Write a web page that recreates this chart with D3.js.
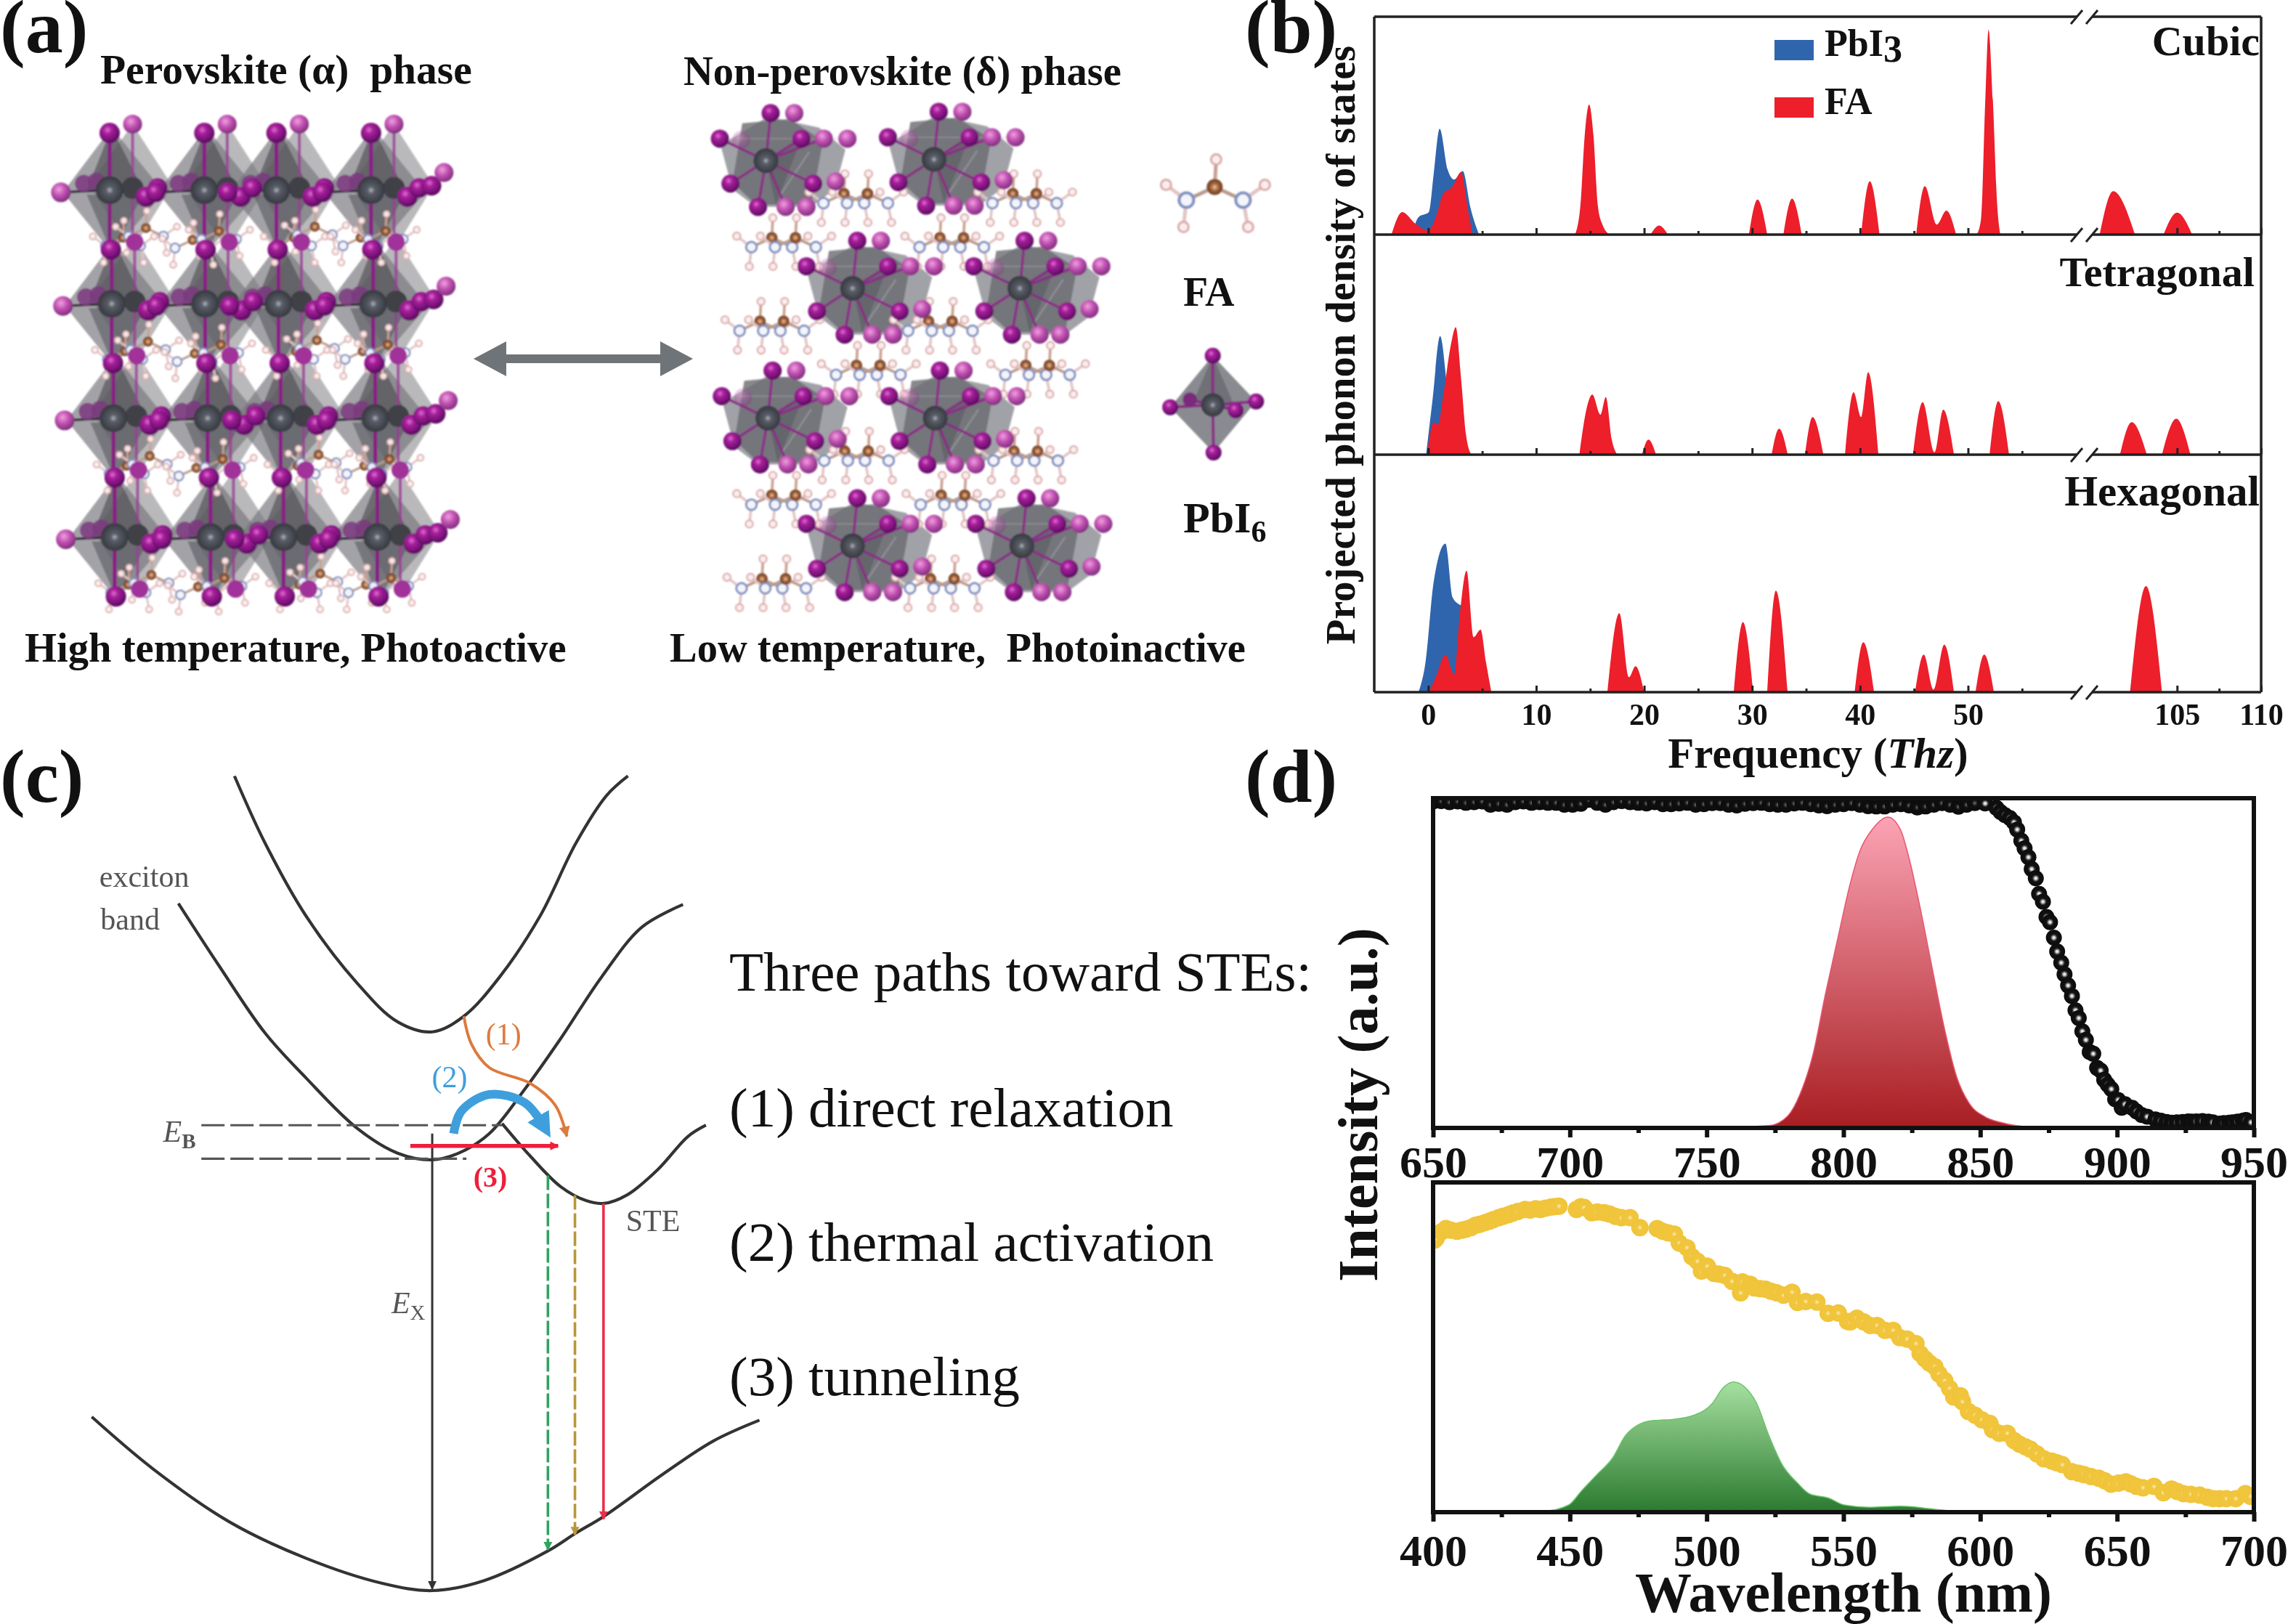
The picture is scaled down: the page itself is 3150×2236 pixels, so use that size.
<!DOCTYPE html>
<html><head><meta charset="utf-8">
<script src="https://cdn.jsdelivr.net/npm/d3@7"></script>
<style>html,body{margin:0;padding:0;background:#fff}svg{display:block;filter:blur(.6px)}text{font-family:"Liberation Serif",serif;fill:#111;white-space:pre}.bold{font-weight:700}</style>
</head><body><svg id="c" width="3150" height="2236" viewBox="0 0 3150 2236"></svg>
<script>
// ---------- panel (b) data: [frequency THz, PDOS a.u.] per peak ----------
const cubicPb=[[[-1.5,0],[-0.9,35],[0.06,45],[0.5,120],[1.06,212],[1.8,130],[2.4,110],[3.2,127],[3.9,55],[4.7,0]]];
const cubicFA=[
 [[-3.4,0],[-2.4,45],[-1.2,22],[0,8],[0.7,35],[1.4,82],[2.2,95],[3.05,125],[3.6,60],[4.1,0]],
 [[13.6,0],[14.1,60],[14.5,200],[14.9,260],[15.3,200],[15.7,60],[16.1,22],[16.8,0]],
 [[20.6,0],[21.4,18],[22.2,0]],[[29.7,0],[30.5,70],[31.4,0]],[[32.9,0],[33.7,72],[34.6,0]],[[40.1,0],[40.9,107],[41.8,0]],
 [[45.2,0],[46,97],[47.1,20],[48,48],[48.9,0]],
 [[50.8,0],[51.2,30],[51.6,270],[51.9,410],[52.3,270],[52.7,60],[53,0]],
 [[100.4,0],[101.2,87],[102.5,0]],[[104.2,0],[105,44],[105.9,0]]];
const tetraPb=[[[-0.2,0],[0.4,110],[1.1,237],[1.8,120],[2.2,30],[2.5,0]]];
const tetraFA=[
 [[-0.1,0],[0.5,65],[0.9,60],[1.4,120],[2.1,220],[2.55,255],[3.05,150],[3.5,40],[4,0]],
 [[14,0],[14.7,95],[15.2,120],[15.95,80],[16.45,115],[17,30],[17.5,0]],
 [[19.8,0],[20.4,30],[21.1,0]],[[31.8,0],[32.5,52],[33.3,0]],[[34.9,0],[35.6,75],[36.6,0]],
 [[38.6,0],[39.4,125],[40.1,75],[40.75,165],[41.7,0]],
 [[44.9,0],[45.8,105],[46.9,5],[47.7,90],[48.7,0]],[[52,0],[52.8,107],[53.8,0]],
 [[101.6,0],[102.3,65],[103.2,0]],[[104.1,0],[104.95,72],[105.8,0]]];
const hexaPb=[[[-0.9,0],[-0.25,60],[0.5,220],[1.6,297],[2.25,190],[2.9,175],[3.3,170],[3.8,0]]];
const hexaFA=[
 [[0.06,0],[0.7,30],[1.6,75],[2.4,35],[2.9,150],[3.55,243],[4.2,110],[4.85,125],[5.35,60],[5.85,0]],
 [[16.6,0],[17.7,158],[18.6,30],[19.2,52],[20,0]],[[28.3,0],[29.15,140],[30.1,0]],[[31.4,0],[32.2,203],[33.3,0]],
 [[39.5,0],[40.3,100],[41.3,0]],[[45.1,0],[45.9,75],[46.8,5],[47.8,95],[48.7,0]],[[50.7,0],[51.5,75],[52.4,0]],
 [[102.2,0],[103.15,212],[104.1,0]]];
const phaseNames=["Cubic","Tetragonal","Hexagonal"];
const freqMajor=[0,10,20,30,40,50,105,110], freqMinor=[5,15,25,35,45,55,107.5];

// ---------- panel (d) data ----------
const blackFlatNm=d3.range(650,851,3);
const blackFlat=[.99,.991,.988,.99,.986,.988,.99,.98,.983,.98,.988,.99,.986,.988,.986,.986,.98,.98,.983,.995,.986,.98,.988,.991,.988,.986,.984,.988,.982,.982,.984,.986,.98,.982,.985,.985,.98,.978,.983,.985,.986,.982,.98,.98,.984,.986,.982,.978,.976,.98,.982,.985,.98,.976,.975,.975,.98,.982,.978,.972,.975,.98,.985,.98,.974,.98,.985];
const blackNm=[851.8,855.9,857.4,859,860.8,862.3,863.5,865,866.2,867.6,868.8,870.3,871.5,872.9,874.2,875.5,876.9,878.1,879.6,880.8,882.1,883.5,884.8,886,887.3,888.6,890,891.3,892.7,894,895.3,896.6,897.9,899.3,900.4,901.7,902.9,905.5,907.1,909,911,914,916,918.1,920,921.9,924,926,927.3,929,931.2,933.4,935,937.5,939,941,942.2,944,946,947.1,949];
const blackVal=[.984,.971,.958,.949,.94,.927,.905,.871,.848,.821,.785,.757,.71,.686,.64,.624,.577,.535,.501,.466,.432,.4,.357,.333,.293,.267,.23,.225,.182,.174,.146,.131,.118,.087,.085,.061,.072,.061,.05,.039,.034,.026,.022,.018,.016,.017,.018,.02,.019,.02,.021,.019,.017,.013,.015,.016,.017,.019,.022,.024,.017];
const redNm=[761.4,772.8,779.7,784.2,788.8,793.4,797.9,802.5,806,810.5,816.2,820.8,824.2,827.7,832.3,836.8,841.4,846,851.7,857.4,863.1,868.8];
const redVal=[.003,.007,.037,.104,.221,.406,.574,.742,.84,.905,.943,.905,.81,.68,.49,.305,.154,.074,.034,.017,.007,.003];
const yellowNm=[400.5,401.1,403,404.7,406.5,408.7,410.5,412,413.8,415.5,417,418.9,420.5,422,424,425.5,427.5,429.1,431,433.6,435.5,437.5,439.2,441,443,444.5,446,452.4,454,455.2,458,460,462.6,464.5,466.7,468.9,472,475.6,481.9,483.9,486,488.2,490,492.8,494.6,496.6,498.1,500.2,502.7,504.5,506.6,509.3,512.4,513.1,515.9,517.4,519.5,521.5,523.5,525.6,528.1,531.2,533.2,536.2,540.3,544.4,548.1,551.5,552.5,554.9,557.4,559.8,562.3,565.2,568.2,570.6,573.3,576.5,578,579.8,581.4,583.4,584.9,587,588.8,590.3,592.7,593.5,595.7,598.1,600.6,603.5,604.5,607,609.9,612.4,614.4,616.5,618.3,620.7,623.2,626.1,628,630,633.5,636,637.9,640.5,643.3,645.5,647.8,650.5,653.2,655,657.1,659.5,663.5,666.9,669.9,672,674.3,677,680.2,683,685.1,687.5,690,693.4,696.9,698.8];
const yellowVal=[.825,.83,.85,.86,.855,.852,.855,.858,.863,.87,.873,.878,.882,.887,.893,.897,.902,.907,.912,.918,.916,.92,.918,.922,.925,.927,.928,.918,.926,.924,.908,.91,.908,.904,.897,.893,.893,.863,.86,.852,.847,.843,.816,.802,.775,.761,.731,.746,.724,.722,.718,.7,.665,.698,.691,.68,.678,.676,.67,.665,.658,.667,.636,.639,.637,.603,.604,.578,.577,.588,.577,.566,.566,.551,.551,.529,.525,.511,.481,.465,.452,.441,.419,.399,.375,.349,.353,.335,.305,.294,.28,.269,.25,.239,.239,.217,.206,.198,.191,.177,.162,.155,.15,.144,.123,.118,.114,.108,.103,.095,.085,.088,.092,.086,.078,.074,.078,.059,.07,.063,.056,.054,.052,.045,.041,.041,.041,.041,.056,.048];
const greenNm=[440.5,449.6,454.2,459.9,465.6,470.2,474.8,480.5,487.4,495.4,502.2,505.6,509.8,513.7,518.2,522.8,527.4,533.1,537.7,544.5,550.2,559.4,570.8,582.3,591.4];
const greenVal=[.002,.022,.064,.114,.164,.231,.264,.278,.281,.294,.331,.373,.395,.381,.331,.231,.147,.089,.055,.043,.022,.015,.018,.01,.002];
const wlTop=[650,700,750,800,850,900,950], wlBot=[400,450,500,550,600,650,700];

// ---------- panel (c) schematic curves, in schematic units ----------
const upperBand=[[460,50],[520,170],[600,300],[700,420],[780,490],[848,508],[910,480],[980,410],[1060,300],[1130,170],[1190,85],[1232,50]];
const excitonBand=[[350,278],[430,390],[520,510],[600,590],[700,680],[780,725],[848,737],[900,725],[960,690],[1030,610],[1100,520],[1180,410],[1260,320],[1340,280]];
const steBand=[[985,672],[1040,730],[1100,785],[1150,810],[1185,815],[1230,800],[1290,755],[1350,695],[1385,675]];
const groundBand=[[180,1197],[300,1290],[450,1385],[600,1450],[750,1495],[848,1508],[950,1490],[1075,1437],[1130,1405],[1185,1375],[1300,1300],[1400,1240],[1490,1203]];
const path1=[[910,480],[925,530],[960,572],[1040,600],[1090,640],[1112,695]];
const path2=[[890,690],[905,650],[960,620],[1030,635],[1068,678]];
const pathLines=["Three paths toward STEs:","(1) direct relaxation","(2) thermal activation","(3) tunneling"];

// ---------- panel (a) lattice, in schematic units ----------
const alphaRows=[432,690,950,1220];
const alphaCols=[[263,490,663,890],[268,492,668,895],[272,498,673,900],[275,505,680,905]];
const alphaFA=[[295,108],[350,86],[462,113],[525,93],[705,108],[755,83],[865,108],[925,93]];
const deltaPb=[[285,365],[712,362],[505,655],[930,655],[290,950],[715,950],[505,1240],[935,1240]];
const deltaFA=[[513,445],[942,445],[330,545],[757,545],[300,735],[728,735],[545,835],[975,835],[515,1030],[945,1030],[330,1130],[760,1130],[305,1320],[733,1320]];
const deltaI=[[12,-108,1],[72,-108,.85],[-117,-50,1],[-63,-47,.5],[90,-50,1],[147,-50,.85],[207,-50,.75],[-90,52,1],[120,52,1],[177,47,.75],[-20,105,1],[50,105,.85],[103,105,.7]];
const deltaHull=[[-115,-35],[5,-100],[135,-75],[202,-25],[175,65],[115,105],[-25,105],[-85,65]];

const svg=d3.select("#c");
const defs=svg.append("defs");
function rad(id,stops,cx=.4,cy=.35,r=.65){const g=defs.append("radialGradient").attr("id",id).attr("cx",cx).attr("cy",cy).attr("r",r);
 stops.forEach(s=>g.append("stop").attr("offset",s[0]).attr("stop-color",s[1]));}
rad("iG",[[0,"#e070d0"],[.3,"#a8209c"],[1,"#5c0a62"]]);
rad("iL",[[0,"#f0a0e0"],[.5,"#c050b0"],[1,"#80307f"]]);
rad("pbG",[[0,"#b0b4bc"],[.22,"#5a5e68"],[1,"#2c2e34"]],.5,.5,.6);
rad("cG",[[0,"#f0c8a0"],[.4,"#a0623a"],[1,"#5c2c14"]],.5,.5,.6);
rad("blk",[[0,"#ffffff"],[.16,"#cfcfcf"],[.32,"#555"],[.46,"#111"],[1,"#0c0c0c"]],.5,.5,.5);
rad("blkF",[[0,"#777"],[.2,"#333"],[.4,"#0e0e0e"],[1,"#0c0c0c"]],.5,.5,.5);
rad("yel",[[0,"#fdf2c8"],[.12,"#f7dc84"],[.3,"#f1c63e"],[1,"#f0c43a"]],.5,.5,.5);
defs.append("filter").attr("id","soft").append("feGaussianBlur").attr("stdDeviation",1.1);

function marker(id,color,w=7,h=6){defs.append("marker").attr("id",id).attr("markerUnits","userSpaceOnUse").attr("viewBox","0 0 10 10").attr("refX",9).attr("refY",5)
 .attr("markerWidth",w*3).attr("markerHeight",h*3).attr("orient","auto").append("path").attr("d","M0,0L10,5L0,10Z").attr("fill",color);}

// ================= panel (a) =================
const ax=d3.scaleLinear([0,900],[0,516.6]), ay=d3.scaleLinear([0,950],[0,575.8]);
const dx=d3.scaleLinear([0,850],[900,1360.7+0]), dy=ay;
function mol(g,cx,cy,s,o=1){
 const N=[[-39,18],[39,18]],H=[[-67,-3],[-43,55],[69,-3],[46,55]],T=[2,-38];
 const b=g.append("g").attr("opacity",o);
 const ln=(a,c,col)=>b.append("line").attr("x1",cx+a[0]*s).attr("y1",cy+a[1]*s).attr("x2",cx+c[0]*s).attr("y2",cy+c[1]*s).attr("stroke",col).attr("stroke-width",Math.max(2,5*s));
 ln([0,0],T,"#c9a08e");N.forEach(n=>ln([0,0],n,"#b89a8c"));
 ln(N[0],H[0],"#e2c4c4");ln(N[0],H[1],"#e2c4c4");ln(N[1],H[2],"#e2c4c4");ln(N[1],H[3],"#e2c4c4");
 H.concat([T]).forEach(h=>b.append("circle").attr("cx",cx+h[0]*s).attr("cy",cy+h[1]*s).attr("r",7*s).attr("fill","#fbeeee").attr("stroke","#dba8a8").attr("stroke-width",Math.max(1.5,3*s)));
 N.forEach(n=>b.append("circle").attr("cx",cx+n[0]*s).attr("cy",cy+n[1]*s).attr("r",10*s).attr("fill","#f4f5fb").attr("stroke","#7f8fc0").attr("stroke-width",Math.max(2,4*s)));
 b.append("circle").attr("cx",cx).attr("cy",cy).attr("r",11*s).attr("fill","url(#cG)");
}
function atom(g,x,y,r,f,o){const c=g.append("circle").attr("cx",x).attr("cy",y).attr("r",r).attr("fill",f);if(o)c.attr("opacity",o);}
const A=svg.append("g").attr("filter","url(#soft)");
alphaRows.forEach((ry,ri)=>alphaCols[ri].forEach((cx0,ci)=>{
 const P=(dxx,dyy)=>[ax(cx0+dxx),ay(ry+dyy)];
 const poly=(pts,fill,op)=>A.append("polygon").attr("points",pts.map(p=>P(p[0],p[1]).join(",")).join(" ")).attr("fill",fill).attr("fill-opacity",op);
 poly([[55,-150],[-50,-10],[55,135],[150,-10]],"#8a8b90",.6);
 poly([[5,-142],[-112,5],[5,142],[130,5]],"#77787e",.68);
 poly([[5,-142],[-55,0],[80,0]],"#3f4046",.55);
 poly([[5,142],[-55,10],[80,10]],"#4a4b51",.5);
}));
alphaRows.forEach((ry,ri)=>alphaCols[ri].forEach((cx0,ci)=>{
 A.append("line").attr("x1",ax(cx0+55)).attr("y1",ay(ry-150)).attr("x2",ax(cx0+55)).attr("y2",ay(ry+130)).attr("stroke","#9a3c95").attr("stroke-width",4).attr("opacity",.8);
 A.append("line").attr("x1",ax(cx0)).attr("y1",ay(ry-130)).attr("x2",ax(cx0)).attr("y2",ay(ry+135)).attr("stroke","#8a1a86").attr("stroke-width",5);
 A.append("line").attr("x1",ax(cx0-117)).attr("y1",ay(ry+5)).attr("x2",ax(cx0+115)).attr("y2",ay(ry-5)).attr("stroke","#2c2c30").attr("stroke-width",3);
}));
alphaRows.forEach((ry,ri)=>alphaCols[ri].forEach(cx0=>{
 [[-62,-15],[-32,-20]].forEach(d=>atom(A,ax(cx0+d[0]),ay(ry+d[1]),12,"#7c3a80",.85));
 atom(A,ax(cx0+55),ay(ry-5),15,"#3f4147");
}));
alphaRows.forEach((ry,ri)=>alphaFA.forEach(m=>{
 const sh=[0,5,9,13][ri];mol(A,ax(m[0]+sh),ay(ry+m[1]),.62,.95);
}));
alphaRows.forEach((ry,ri)=>alphaCols[ri].forEach((cx0,ci)=>{
 atom(A,ax(cx0),ay(ry),19,"url(#pbG)");
 atom(A,ax(cx0-117),ay(ry+5),13.5,ci==0?"url(#iL)":"url(#iG)");
 atom(A,ax(cx0+87),ay(ry+15),14,"url(#iG)");
 atom(A,ax(cx0+115),ay(ry-5),13.5,"url(#iG)");
 if(ci==3){atom(A,ax(cx0+145),ay(ry-10),13.5,"url(#iG)");atom(A,ax(cx0+175),ay(ry-40),13,"url(#iL)");}
 atom(A,ax(cx0+3),ay(ry+135),14,"url(#iG)");
 atom(A,ax(cx0+60),ay(ry+118),12,"#a0309a");
 if(ri==0){atom(A,ax(cx0),ay(ry-130),14,"url(#iG)");atom(A,ax(cx0+55),ay(ry-150),13,"url(#iL)");}
}));
const D=svg.append("g").attr("filter","url(#soft)");
deltaPb.forEach(p=>{
 const P=(a,b)=>[dx(p[0]+a),dy(p[1]+b)];
 D.append("polygon").attr("points",deltaHull.map(h=>P(h[0],h[1]).join(",")).join(" ")).attr("fill","#97989d").attr("fill-opacity",.9);
 D.append("polygon").attr("points",[[-60,-85],[60,-95],[145,-45],[115,100],[-25,100],[-85,50]].map(h=>P(h[0],h[1]).join(",")).join(" ")).attr("fill","#6a6b71").attr("fill-opacity",.8);
 D.append("polygon").attr("points",[[0,0],[90,-50],[25,100]].map(h=>P(h[0],h[1]).join(",")).join(" ")).attr("fill","#4e4f56").attr("fill-opacity",.45);
 D.append("line").attr("x1",P(-110,-50)[0]).attr("y1",P(-110,-50)[1]).attr("x2",P(205,-50)[0]).attr("y2",P(205,-50)[1]).attr("stroke","#b9b9bf").attr("stroke-width",1).attr("opacity",.6);
 D.append("line").attr("x1",P(35,80)[0]).attr("y1",P(35,80)[1]).attr("x2",P(110,-20)[0]).attr("y2",P(110,-20)[1]).attr("stroke","#a9a9af").attr("stroke-width",2).attr("opacity",.6);
 [[12,-108],[-117,-50],[90,-50],[-90,52],[120,52],[-20,105],[50,105],[147,-50]].forEach(d=>{
  const q=P(d[0],d[1]),o=P(0,0);
  D.append("line").attr("x1",o[0]).attr("y1",o[1]).attr("x2",q[0]).attr("y2",q[1]).attr("stroke","#8a2a86").attr("stroke-width",3.5);});
 const o=P(0,0);atom(D,o[0],o[1],17,"url(#pbG)");
});
deltaFA.forEach(f=>{
 [-30,30].forEach(s=>mol(D,dx(f[0]+s),dy(f[1]-5),.72));
});
deltaPb.forEach(p=>deltaI.forEach(d=>{
 atom(D,dx(p[0]+d[0]),dy(p[1]+d[1]),12.5,d[2]>=1?"url(#iG)":"url(#iL)",d[2]<.6?.35:1);
}));
const I=svg.append("g").attr("filter","url(#soft)");
mol(I,dx(1425),dy(425),1);
const octX=1420,octY=920;
const OP=(a,b)=>[dx(octX+a),dy(octY+b)];
I.append("polygon").attr("points",[[0,-112],[-108,5],[2,108],[110,-8]].map(h=>OP(h[0],h[1]).join(",")).join(" ")).attr("fill","#8a8b91");
I.append("polygon").attr("points",[[0,-112],[-50,-5],[60,12]].map(h=>OP(h[0],h[1]).join(",")).join(" ")).attr("fill","#6f7076");
[[0,-112],[2,108],[-108,5],[110,-8],[-58,-12],[58,12]].forEach(d=>{const q=OP(d[0],d[1]),o=OP(0,0);
 I.append("line").attr("x1",o[0]).attr("y1",o[1]).attr("x2",q[0]).attr("y2",q[1]).attr("stroke","#8a2a86").attr("stroke-width",4);});
atom(I,OP(-58,-12)[0],OP(-58,-12)[1],10,"#7a2a7c");
atom(I,OP(0,0)[0],OP(0,0)[1],16,"url(#pbG)");
[[0,-112],[2,108],[-108,5],[110,-8],[58,12]].forEach(d=>{const q=OP(d[0],d[1]);atom(I,q[0],q[1],11,"url(#iG)");});
svg.append("path").attr("d","M652,494L697,470L697,488L909,488L909,470L954,494L909,518L909,500L697,500L697,518Z").attr("fill","#6f7478");

function T(x,y,s,size,opt={}){const t=svg.append("text").attr("x",x).attr("y",y).attr("font-size",size).text(s);
 if(opt.bold!==false)t.classed("bold",true);if(opt.anchor)t.attr("text-anchor",opt.anchor);if(opt.fill)t.style("fill",opt.fill);if(opt.italic)t.style("font-style","italic");return t;}
T(0,72,"(a)",104);T(1714,72,"(b)",104);T(0,1104,"(c)",104);T(1714,1104,"(d)",104);
T(138,115,"Perovskite (α)  phase",57.5);
T(941,117,"Non-perovskite (δ) phase",56.5);
T(34,911,"High temperature, Photoactive",56.6);
T(922,911,"Low temperature,  Photoinactive",56.5);
T(1629,421,"FA",56);
const pb6=T(1629,733,"PbI",60);pb6.append("tspan").attr("dy",13).attr("font-size",42).text("6");

// ================= panel (b) =================
const fx=d3.scaleLinear().domain([-5,60.8,99.5,110]).range([1892,2870,2870,3113]);
const bPanels=[{top:23,bot:323,h:436,pb:cubicPb,fa:cubicFA},{top:323,bot:626,h:440,pb:tetraPb,fa:tetraFA},{top:626,bot:953,h:475,pb:hexaPb,fa:hexaFA}];
const labelY=[76,394,696];
bPanels.forEach((p,i)=>{
 const y=d3.scaleLinear([0,p.h],[p.bot,p.top]);
 const area=d3.area().x(d=>fx(d[0])).y0(p.bot).y1(d=>y(d[1])).curve(d3.curveMonotoneX);
 const g=svg.append("g");
 g.selectAll("path.pb").data(p.pb).join("path").attr("class","pb").attr("d",area).attr("fill","#2f65ad");
 g.selectAll("path.fa").data(p.fa).join("path").attr("class","fa").attr("d",area).attr("fill","#ec1f2b");
 T(i==1?3104:3111,labelY[i],phaseNames[i],[58,58,59][i],{anchor:"end"});
 const mj=svg.append("g").attr("transform",`translate(0,${p.bot})`).call(d3.axisBottom(fx).tickValues(freqMajor).tickSizeInner(-9).tickSizeOuter(0).tickPadding(i==2?15:0).tickFormat(i==2?d3.format("d"):""));
 mj.select(".domain").remove();mj.selectAll("line").attr("stroke","#222").attr("stroke-width",3);
 mj.selectAll("text").attr("font-size",42).attr("class","bold").attr("fill","#111").style("font-family","Liberation Serif");
 const mn=svg.append("g").attr("transform",`translate(0,${p.bot})`).call(d3.axisBottom(fx).tickValues(freqMinor).tickSizeInner(-5).tickSizeOuter(0).tickFormat(""));
 mn.select(".domain").remove();mn.selectAll("line").attr("stroke","#222").attr("stroke-width",3);
});
const bFrame=svg.append("g").attr("fill","none").attr("stroke","#222").attr("stroke-width",3.5);
bFrame.append("path").attr("d",`M1892,23V953M3113,23V953`);
[23,323,626,953].forEach(y=>{
 bFrame.append("path").attr("d",`M1892,${y}H2860M2880,${y}H3113`);
 bFrame.append("path").attr("d",`M2851,${y+10}L2867,${y-9}M2872,${y+10}L2888,${y-9}`).attr("stroke-width",3);
});
svg.append("rect").attr("x",2443).attr("y",55).attr("width",54).attr("height",28).attr("fill","#2f65ad");
svg.append("rect").attr("x",2443).attr("y",134).attr("width",54).attr("height",28).attr("fill","#ec1f2b");
const lp=T(2512,77,"PbI",52);lp.append("tspan").attr("dy",8).text("3");
T(2512,157,"FA",52);
svg.append("text").attr("class","bold").attr("transform","translate(1865,475) rotate(-90)").attr("text-anchor","middle").attr("font-size",56.5).text("Projected phonon density of states");
const ft=T(2503,1057,"Frequency (",59,{anchor:"middle"});ft.append("tspan").style("font-style","italic").text("Thz");ft.append("tspan").text(")");

// ================= panel (d) =================
const L=1973,R=3103;
const xTop=d3.scaleLinear([650,950],[L,R]), xBot=d3.scaleLinear([400,700],[L,R]);
const yTop=d3.scaleLinear([0,1],[1553,1099]), yBot=d3.scaleLinear([0,1],[2082,1628]);
function grad(id,y1,y2,a,b){const g=defs.append("linearGradient").attr("id",id).attr("gradientUnits","userSpaceOnUse").attr("x1",0).attr("x2",0).attr("y1",y1).attr("y2",y2);
 g.append("stop").attr("offset",0).attr("stop-color",a);g.append("stop").attr("offset",1).attr("stop-color",b);}
grad("redG",yTop(.943),1553,"#fba3b4","#a81e22");
grad("grnG",yBot(.395),2082,"#a6e0a0","#2b7a30");
defs.append("clipPath").attr("id","cTop").append("rect").attr("x",L).attr("y",1099).attr("width",R-L).attr("height",454);
defs.append("clipPath").attr("id","cBot").append("rect").attr("x",L).attr("y",1628).attr("width",R-L).attr("height",454);
const gt=svg.append("g").attr("clip-path","url(#cTop)"), gb=svg.append("g").attr("clip-path","url(#cBot)");
const redP=redNm.map((n,i)=>[n,redVal[i]]), grnP=greenNm.map((n,i)=>[n,greenVal[i]]);
gt.append("path").datum(redP).attr("d",d3.area().x(d=>xTop(d[0])).y0(1553).y1(d=>yTop(d[1])).curve(d3.curveMonotoneX)).attr("fill","url(#redG)").attr("stroke","#e9556f").attr("stroke-width",1.5);
const blackFlatPts=blackFlatNm.map((n,i)=>[n,blackFlat[i]]), blackPts=blackNm.map((n,i)=>[n,blackVal[i]]);
gt.selectAll("circle.f").data(blackFlatPts).join("circle").attr("class","f").attr("cx",d=>xTop(d[0])).attr("cy",d=>yTop(d[1])).attr("r",11).attr("fill","url(#blkF)");
gt.selectAll("circle.p").data(blackPts).join("circle").attr("class","p").attr("cx",d=>xTop(d[0])).attr("cy",d=>yTop(d[1])).attr("r",11).attr("fill","url(#blk)");
gb.append("path").datum(grnP).attr("d",d3.area().x(d=>xBot(d[0])).y0(2082).y1(d=>yBot(d[1])).curve(d3.curveMonotoneX)).attr("fill","url(#grnG)").attr("stroke","#6cc46c").attr("stroke-width",1.5);
gb.selectAll("circle").data(yellowNm.map((n,i)=>[n,yellowVal[i]])).join("circle").attr("cx",d=>xBot(d[0])).attr("cy",d=>yBot(d[1])).attr("r",12).attr("fill","url(#yel)");
function dAxis(x,bot,majors,pad){
 const mn=svg.append("g").attr("transform",`translate(0,${bot})`).call(d3.axisBottom(x).tickValues(d3.pairs(majors).map(p=>(p[0]+p[1])/2)).tickSizeInner(7).tickSizeOuter(0).tickFormat(""));
 mn.select(".domain").remove();mn.selectAll("line").attr("stroke","#111").attr("stroke-width",6);
 const mj=svg.append("g").attr("transform",`translate(0,${bot})`).call(d3.axisBottom(x).tickValues(majors).tickSizeInner(13).tickSizeOuter(0).tickPadding(pad).tickFormat(d3.format("d")));
 mj.select(".domain").remove();mj.selectAll("line").attr("stroke","#111").attr("stroke-width",6);
 mj.selectAll("text").attr("font-size",62).attr("class","bold").attr("fill","#111").style("font-family","Liberation Serif");
 svg.append("rect").attr("x",L).attr("y",bot-454).attr("width",R-L).attr("height",454).attr("fill","none").attr("stroke","#111").attr("stroke-width",6);
}
dAxis(xTop,1553,wlTop,11);dAxis(xBot,2082,wlBot,17);
svg.append("text").attr("class","bold").attr("transform","translate(1896,1521) rotate(-90)").attr("text-anchor","middle").attr("font-size",78).text("Intensity (a.u.)");
T(2538,2219,"Wavelength (nm)",78,{anchor:"middle"});

// ================= panel (c) =================
const cx=d3.scaleLinear([0,1100],[0,771.9]), cy=d3.scaleLinear([0,1206],[1030,1030+927.7]);
const line=d3.line().x(d=>cx(d[0])).y(d=>cy(d[1])).curve(d3.curveCatmullRom.alpha(.5));
const C=svg.append("g").attr("fill","none");
[upperBand,excitonBand,steBand,groundBand].forEach(b=>C.append("path").datum(b).attr("d",line).attr("stroke","#333").attr("stroke-width",4.2));
function seg(x1,y1,x2,y2,col,w,dash,mk){const l=C.append("line").attr("x1",cx(x1)).attr("y1",cy(y1)).attr("x2",cx(x2)).attr("y2",cy(y2)).attr("stroke",col).attr("stroke-width",w);
 if(dash)l.attr("stroke-dasharray",dash);if(mk)l.attr("marker-end",`url(#${mk})`);return l;}
marker("mBlack","#333",4,6);marker("mGreen","#2fa45e",4,6);marker("mTan","#b8963a",4,6);marker("mRed","#e8304a",4,6);marker("mRed2","#ee1f3c",6,4);marker("mOr","#dd7a3c",5,6);
defs.append("marker").attr("id","mBlue").attr("markerUnits","userSpaceOnUse").attr("viewBox","0 0 10 10").attr("refX",5).attr("refY",5).attr("markerWidth",34).attr("markerHeight",34).attr("orient","auto").append("path").attr("d","M0,0L10,5L0,10Z").attr("fill","#3f9fdc");
seg(395,675,985,675,"#555",3.2,"32 8");seg(395,735,915,735,"#555",3.2,"32 8");
seg(848,690,848,1505,"#333",3,null,"mBlack");
seg(1075,765,1075,1435,"#2fa45e",3.6,"20 5","mGreen");
seg(1128,800,1128,1408,"#b8963a",3.6,"20 5","mTan");
seg(1184,815,1184,1380,"#e8304a",3.6,null,"mRed");
seg(805,712,1095,712,"#ee1f3c",5.5,null,"mRed2");
C.append("path").datum(path1).attr("d",line).attr("stroke","#dd7a3c").attr("stroke-width",4).attr("marker-end","url(#mOr)");
C.append("path").datum(path2).attr("d",line).attr("stroke","#3f9fdc").attr("stroke-width",12).attr("marker-end","url(#mBlue)");
function Tc(x,y,s,size,col,opt={}){return T(cx(x),cy(y),s,size,{bold:!!opt.bold,fill:col,anchor:opt.anchor,italic:opt.italic});}
Tc(195,248,"exciton",42,"#555");Tc(197,325,"band",42,"#555");Tc(1228,865,"STE",42,"#555");
const eb=Tc(320,705,"E",42,"#555",{italic:true});eb.append("tspan").attr("dy",9).attr("font-size",29).style("font-style","normal").style("font-weight",700).text("B");
const ex=Tc(768,1012,"E",42,"#555",{italic:true});ex.append("tspan").attr("dy",9).attr("font-size",29).style("font-style","normal").text("X");
Tc(988,530,"(1)",42,"#dd7a3c",{anchor:"middle"});Tc(882,607,"(2)",42,"#3f9fdc",{anchor:"middle"});Tc(962,785,"(3)",40,"#ee1f3c",{anchor:"middle",bold:true});
pathLines.forEach((s,i)=>T(1004,[1364,1551,1736,1921][i],s,77,{bold:false}));
</script></body></html>
